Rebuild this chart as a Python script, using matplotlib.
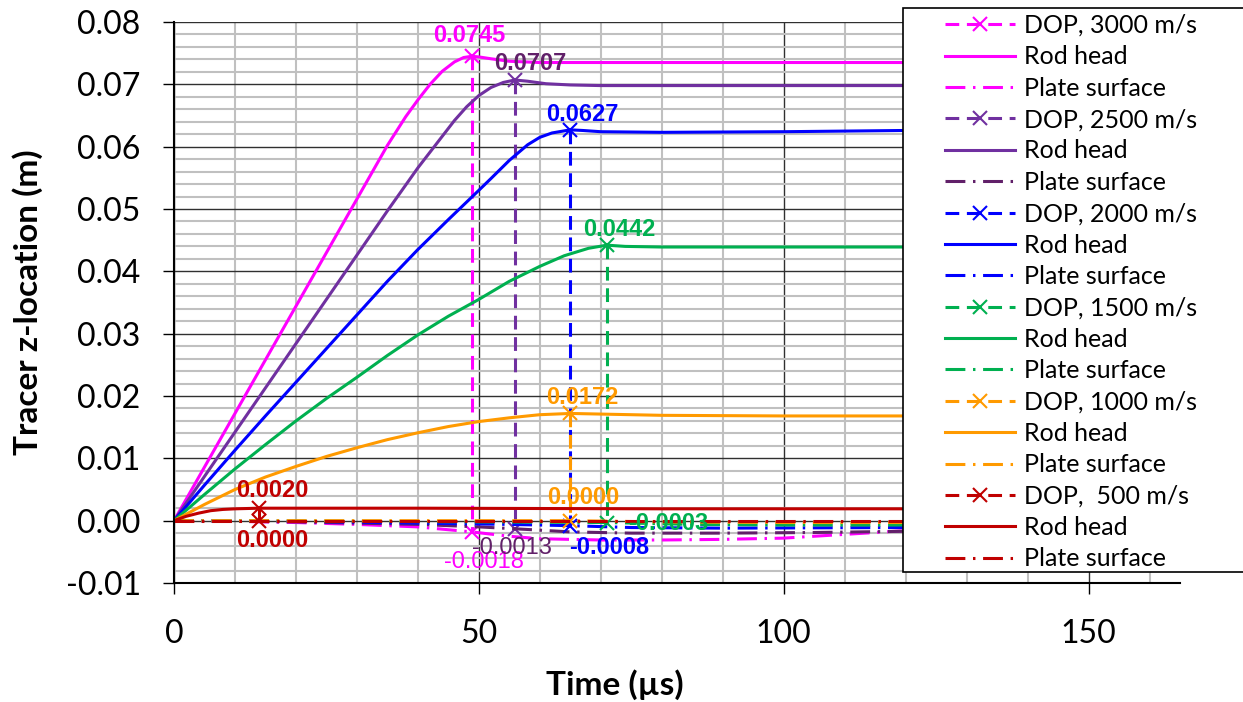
import matplotlib
matplotlib.use("Agg")
import matplotlib.pyplot as plt
from matplotlib.patches import Rectangle

plt.rcParams['font.family'] = ['Lato', 'DejaVu Sans']
plt.rcParams['axes.unicode_minus'] = False

# ---- data (time in us, z in m) ----
speeds = ['3000', '2500', '2000', '1500', '1000', ' 500']

rod_t = {
    '3000': [0, 5, 10, 15, 20, 25, 30, 35, 38, 40, 42, 44, 46, 47.5, 48.8, 50, 52, 55, 60, 80, 120, 165],
    '2500': [0, 5, 10, 15, 20, 25, 30, 35, 40, 43, 46, 48, 50, 52, 54, 55.9, 58, 61, 65, 70, 120, 165],
    '2000': [0, 5, 10, 15, 20, 25, 30, 35, 40, 45, 50, 52, 55, 58, 60, 62, 65, 67, 70, 80, 100, 120, 165],
    '1500': [0, 5, 10, 15, 20, 25, 30, 35, 40, 45, 50, 55, 60, 64, 68, 71, 74, 80, 120, 165],
    '1000': [0, 5, 10, 15, 20, 25, 30, 35, 40, 45, 50, 55, 60, 65, 70, 80, 100, 165],
    ' 500': [0, 2, 4, 6, 8, 10, 14, 20, 40, 80, 120, 165],
}
rod_z = {
    '3000': [0, 0.0086, 0.0172, 0.0258, 0.0344, 0.0430, 0.0516, 0.0602, 0.0648, 0.0675, 0.0700,
             0.0721, 0.0736, 0.0743, 0.0745, 0.0744, 0.0741, 0.0737, 0.0735, 0.0735, 0.0735, 0.0735],
    '2500': [0, 0.0071, 0.0142, 0.0213, 0.0284, 0.0355, 0.0426, 0.0497, 0.0566, 0.0604, 0.0642,
             0.0664, 0.0682, 0.0695, 0.0703, 0.0707, 0.0705, 0.0701, 0.0699, 0.0698, 0.0698, 0.0698],
    '2000': [0, 0.0057, 0.0113, 0.0168, 0.0222, 0.0276, 0.0330, 0.0384, 0.0435, 0.0483, 0.0530, 0.0549,
             0.0578, 0.0603, 0.0615, 0.0622, 0.0627, 0.0626, 0.0624, 0.0623, 0.0624, 0.0626, 0.0626],
    '1500': [0, 0.0042, 0.0083, 0.0122, 0.0160, 0.0196, 0.0230, 0.0265, 0.0298, 0.0328, 0.0355,
             0.0384, 0.0408, 0.0425, 0.0437, 0.0442, 0.0440, 0.0439, 0.0439, 0.0439],
    '1000': [0, 0.0026, 0.0050, 0.0070, 0.0087, 0.0103, 0.0117, 0.0130, 0.0141, 0.0151, 0.0159,
             0.0165, 0.0170, 0.0172, 0.0171, 0.0169, 0.0168, 0.0168],
    ' 500': [0, 0.0007, 0.0012, 0.0016, 0.0018, 0.0019, 0.0020, 0.0020, 0.0020, 0.0019, 0.0019, 0.0019],
}

plate_t = {
    '3000': [0, 10, 20, 30, 40, 48.8, 55, 60, 70, 80, 90, 100, 110, 120, 140, 165],
    '2500': [0, 20, 40, 50, 55.9, 65, 75, 90, 105, 120, 165],
    '2000': [0, 20, 40, 55, 65, 75, 90, 120, 165],
    '1500': [0, 30, 50, 71, 85, 100, 120, 165],
    '1000': [0, 65, 80, 100, 165],
    ' 500': [0, 14, 60, 120, 165],
}
plate_z = {
    '3000': [0, -0.0001, -0.0003, -0.0006, -0.0010, -0.0018, -0.0025, -0.0029, -0.0031, -0.0031,
             -0.0030, -0.0028, -0.0022, -0.0016, -0.0012, -0.0010],
    '2500': [0, -0.0002, -0.0006, -0.0010, -0.0013, -0.0018, -0.0020, -0.0020, -0.0019, -0.0017, -0.0014],
    '2000': [0, -0.0001, -0.0004, -0.0006, -0.0008, -0.0011, -0.0012, -0.0011, -0.0010],
    '1500': [0, -0.0001, -0.0002, -0.0003, -0.0006, -0.0007, -0.0007, -0.0006],
    '1000': [0, 0.0, -0.0002, -0.0003, -0.0003],
    ' 500': [0, 0.0, 0.0, 0.0, 0.0],
}

# depth of penetration: time of peak, rod head peak, plate surface value
dop_t = {'3000': 48.8, '2500': 55.9, '2000': 65.0, '1500': 71.0, '1000': 65.0, ' 500': 14.0}
dop_peak = {'3000': 0.0745, '2500': 0.0707, '2000': 0.0627, '1500': 0.0442, '1000': 0.0172, ' 500': 0.0020}
dop_plate = {'3000': -0.0018, '2500': -0.0013, '2000': -0.0008, '1500': -0.0003, '1000': 0.0000, ' 500': 0.0000}

# ---- styles ----
rod_col = {'3000': '#FF00FF', '2500': '#7030A0', '2000': '#0000FF',
           '1500': '#00B050', '1000': '#FF9A00', ' 500': '#C00000'}
plate_col = dict(rod_col, **{'2500': '#612069'})
lab_col = dict(rod_col, **{'2500': '#612069'})
# label offsets in points (peak label, plate label)
peak_off = {'3000': (-1.5, 15), '2500': (11, 12), '2000': (9, 11),
            '1500': (9, 11.5), '1000': (9, 11.5), ' 500': (9, 13)}
plate_off = {'3000': (9, -22), '2500': (-2, -14), '2000': (28, -16),
             '1500': (44, -1), '1000': (9, 16.5), ' 500': (9, -14)}

fig = plt.figure(figsize=(12.43, 7.02), dpi=100)
ax = fig.add_axes([174/1243, 1-583/702, (1180-174)/1243, (583-22)/702])

lw = 2.2
handles = []
for s in speeds:
    h1, = ax.plot([dop_t[s], dop_t[s]], [dop_peak[s], dop_plate[s]], color=rod_col[s], lw=lw,
                  dashes=(4.5, 2.5), marker='x', ms=10, mew=1.5, label=f'DOP, {s} m/s')
    h2, = ax.plot(rod_t[s], rod_z[s], color=rod_col[s], lw=lw, label='Rod head')
    h3, = ax.plot(plate_t[s], plate_z[s], color=plate_col[s], lw=lw,
                  dashes=(6.5, 2.5, 0.8, 2.5), label='Plate surface')
    handles += [h1, h2, h3]

    ax.annotate(f'{dop_peak[s]:.4f}', xy=(dop_t[s], dop_peak[s]), xytext=peak_off[s],
                textcoords='offset points', ha='center', va='center', color=lab_col[s],
                fontsize=17, fontweight='bold', family=['Liberation Sans', 'DejaVu Sans'])
    bold = s not in ('3000', '2500')
    ax.annotate(f'{dop_plate[s]:.4f}', xy=(dop_t[s], dop_plate[s]), xytext=plate_off[s],
                textcoords='offset points', ha='center', va='center', color=lab_col[s],
                fontsize=17, fontweight='bold' if bold else 'normal',
                family=['Liberation Sans', 'DejaVu Sans'])

ax.set_xlim(0, 165)
ax.set_ylim(-0.01, 0.08)
ax.set_xticks([0, 50, 100, 150])
ax.set_xticks(range(0, 170, 10), minor=True)
ax.set_yticks([i/100 for i in range(-1, 9)])
ax.set_yticks([i/1000 for i in range(-10, 81, 2)], minor=True)
ax.set_yticklabels([f'{i/100:.2f}' for i in range(-1, 9)])
ax.grid(which='minor', color='#C0C0C0', lw=1.5)
ax.grid(which='major', color='#303030', lw=1.0)
ax.set_axisbelow(True)
ax.tick_params(which='minor', length=0)
ax.tick_params(which='major', direction='out', length=8, width=1, labelsize=23, color='black')
ax.tick_params(axis='y', pad=16)
ax.tick_params(axis='x', pad=18)
for side in ('left', 'bottom'):
    ax.spines[side].set_linewidth(1.5)
    ax.spines[side].set_color('black')
ax.spines['right'].set_visible(False)
ax.spines['top'].set_visible(False)

fig.text(615/1243, 1-685/702, 'Time (µs)', ha='center', va='center', fontsize=24, fontweight='bold')
fig.text(28/1243, 1-302/702, 'Tracer z-location (m)', ha='center', va='center', rotation=90,
         fontsize=24, fontweight='bold')

# legend box (runs off the right edge of the figure)
fig.add_artist(Rectangle((903/1243, 1-572/702), (1260-903)/1243, (572-8)/702,
                         transform=fig.transFigure, facecolor='white', edgecolor='black',
                         lw=1.2, zorder=2))
leg = fig.legend(handles=handles, loc='upper left', bbox_to_anchor=(945/1243, 1-14/702),
                 bbox_transform=fig.transFigure, frameon=False, fontsize=18, borderpad=0,
                 borderaxespad=0, handlelength=2.8, handletextpad=0.35, labelspacing=0.335)
leg.set_zorder(5)

fig.savefig('out.png', dpi=100)
